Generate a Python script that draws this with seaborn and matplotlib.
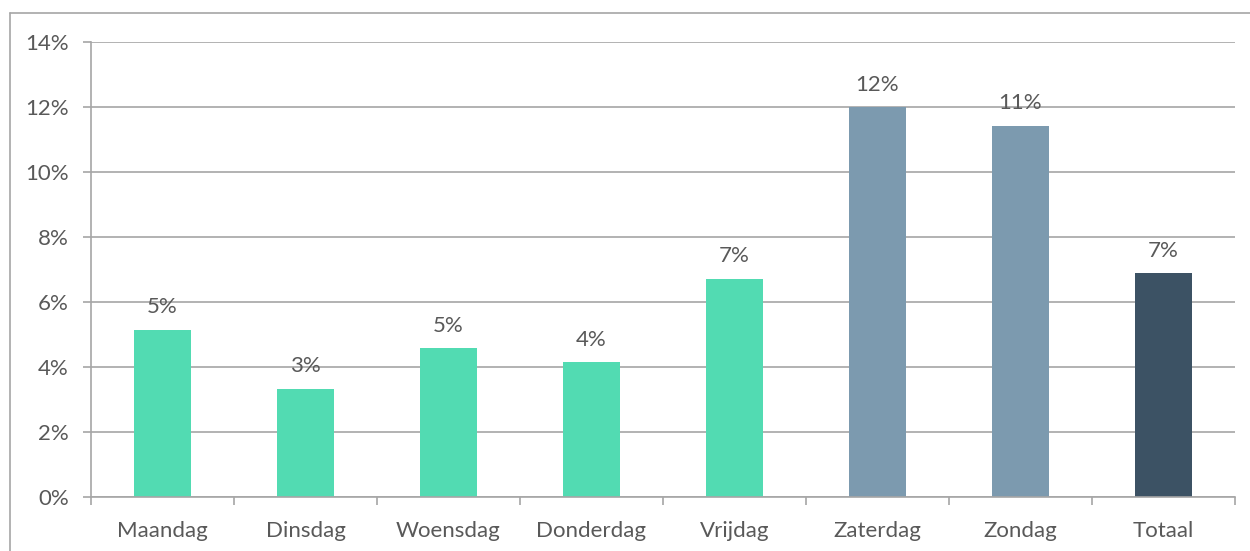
import matplotlib
matplotlib.use("Agg")
import matplotlib.pyplot as plt
from matplotlib.lines import Line2D
from matplotlib.ticker import FixedLocator, PercentFormatter
import seaborn as sns
import pandas as pd

categories = ["Maandag", "Dinsdag", "Woensdag", "Donderdag", "Vrijdag", "Zaterdag", "Zondag", "Totaal"]
values = [5.15, 3.33, 4.57, 4.15, 6.72, 12.0, 11.42, 6.89]
labels = ["5%", "3%", "5%", "4%", "7%", "12%", "11%", "7%"]
colors = ["#52DBB2"] * 5 + ["#7C9AAF"] * 2 + ["#3C5264"]

sns.set_style("white")
plt.rcParams["font.family"] = ["Lato", "DejaVu Sans"]
text_col = "#595959"
grid_col = "#A6A6A6"
fs = 16

df = pd.DataFrame({"dag": categories, "pct": values})

fig = plt.figure(figsize=(12.5, 5.51), dpi=100)
ax = fig.add_axes([91 / 1250, 1 - 497 / 551, (1235 - 91) / 1250, (497 - 42) / 551])

sns.barplot(data=df, x="dag", y="pct", hue="dag", palette=colors, width=0.4,
            legend=False, ax=ax, saturation=1, linewidth=0)

ax.set_ylim(0, 14)
ax.set_xlim(-0.5, len(categories) - 0.5)
ax.set_yticks(range(0, 15, 2))
ax.yaxis.set_major_formatter(PercentFormatter(decimals=0))
ax.set_xlabel("")
ax.set_ylabel("")
ax.grid(axis="y", color=grid_col, linewidth=1.2)
ax.set_axisbelow(True)

for s in ["top", "right"]:
    ax.spines[s].set_visible(False)
for s in ["left", "bottom"]:
    ax.spines[s].set_color(grid_col)
    ax.spines[s].set_linewidth(1.2)

ax.tick_params(axis="y", which="major", direction="out", length=6, width=1.2, color=grid_col,
               labelsize=fs, labelcolor=text_col, pad=10, left=True)
ax.tick_params(axis="x", which="major", length=0, labelsize=fs, labelcolor=text_col, pad=17)
ax.xaxis.set_minor_locator(FixedLocator([i - 0.5 for i in range(len(categories) + 1)]))
ax.tick_params(axis="x", which="minor", direction="out", length=6, width=1.2, color=grid_col, bottom=True)

for bar, lab in zip(sorted(ax.patches, key=lambda p: p.get_x()), labels):
    ax.annotate(lab, (bar.get_x() + bar.get_width() / 2, bar.get_height()),
                xytext=(0, 9), textcoords="offset points", ha="center", va="bottom",
                fontsize=fs, color=text_col)

fig.add_artist(Line2D([10 / 1250, 10 / 1250], [0, 1 - 13 / 551], color=grid_col, linewidth=1.2))
fig.add_artist(Line2D([10 / 1250, 1], [1 - 13 / 551, 1 - 13 / 551], color=grid_col, linewidth=1.2))

fig.savefig("out.png", dpi=100, facecolor="white")
